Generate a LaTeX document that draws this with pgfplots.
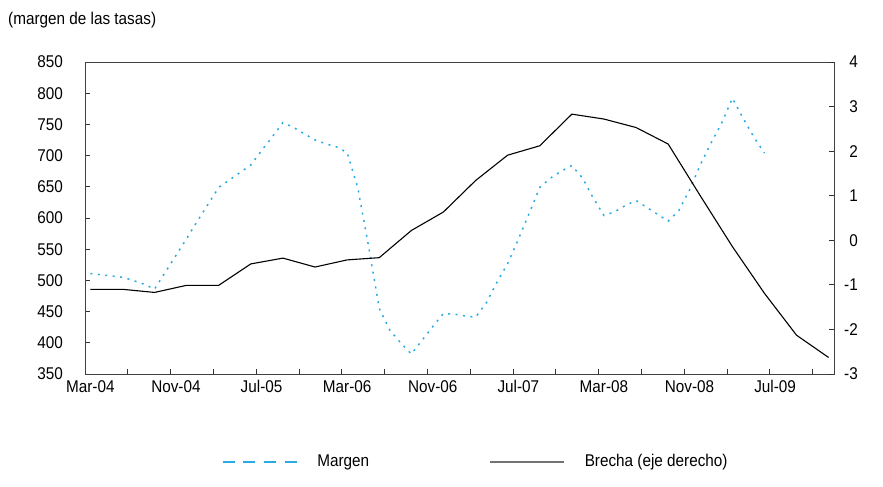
\documentclass[border=0pt]{standalone}
\usepackage{fontspec}
\setmainfont{Liberation Sans}[FakeStretch=0.9]
\usepackage{pgfplots}
\pgfplotsset{compat=1.18}
\definecolor{mcyan}{RGB}{41,171,226}
\newcommand{\chartfont}{\fontsize{17bp}{20bp}\selectfont}
\begin{document}
\chartfont
\begin{tikzpicture}
\useasboundingbox (0,0) rectangle (883bp,487bp);
\node[anchor=west, inner sep=0pt] at (8bp,467bp) {\chartfont (margen de las tasas)};
\begin{axis}[
  at={(85bp,113bp)}, anchor=south west, scale only axis,
  width=749bp, height=312bp,
  xmin=-0.5, xmax=69.5, ymin=350, ymax=850,
  /pgf/number format/assume math mode=true,
  ytick={350,400,...,850},
  ytick pos=left, xtick pos=bottom,
  tick align=inside, major tick length=5bp,
  tick style={black!80, line width=0.8bp},
  axis line style={black!75, line width=1bp},
  xtick={3.5,7.5,...,67.5}, xticklabels={},
  extra x ticks={0,8,16,24,32,40,48,56,64},
  extra x tick labels={Mar-04,Nov-04,Jul-05,Mar-06,Nov-06,Jul-07,Mar-08,Nov-08,Jul-09},
  extra x tick style={major tick length=0pt},
  xticklabel style={font=\chartfont, inner ysep=0pt, yshift=-6bp},
  yticklabel style={font=\chartfont, inner xsep=0pt, xshift=-22bp},
  legend columns=2,
  legend style={at={(0.1829,-0.282)}, anchor=west, draw=none, fill=none,
    font=\chartfont, inner sep=0pt,
    /tikz/every odd column/.append style={column sep=18bp},
    /tikz/every even column/.append style={column sep=118bp}},
  legend cell align=left,
]
\addplot[mcyan, line width=1.5bp, dash pattern=on 2bp off 5.5bp,
  legend image code/.code={\draw[mcyan, line width=1.2bp, dash pattern=on 12bp off 8.7bp] (0bp,0bp) -- (74bp,0bp);}]
coordinates {
(0,511) (1,509) (2,507) (3,505) (4,500) (5,494) (6,486) (7,513) (8,540) (9,567)
(10,595) (11,622) (12,649) (13,661) (14,673) (15,685) (16,708) (17,730) (18,753) (19,745)
(20,735) (21,725) (22,719) (23,714) (24,705) (25,648) (26,555) (27,455) (28,420) (29,400)
(30,382) (31,404) (32,426) (33,447) (34,446) (35,443) (36,441) (37,464) (38,497) (39,527)
(40,566) (41,607) (42,649) (43,664) (44,675) (45,684) (46,664) (47,632) (48,604) (49,610)
(50,620) (51,628) (52,617) (53,606) (54,595) (55,612) (56,645) (57,685) (58,720) (59,752)
(60,792) (61,760) (62,730) (63,704)
};
\addlegendentry{Margen}
\addlegendimage{legend image code/.code={\draw[black!55, line width=1.5bp] (0bp,0bp) -- (74bp,0bp);}}
\addlegendentry{Brecha (eje derecho)}
\end{axis}
\begin{axis}[
  at={(85bp,113bp)}, anchor=south west, scale only axis,
  width=749bp, height=312bp,
  xmin=-0.5, xmax=69.5, ymin=-3, ymax=4,
  /pgf/number format/assume math mode=true,
  axis x line=none, axis y line*=right,
  ytick={-3,-2,...,4},
  tick align=inside, major tick length=5bp,
  tick style={black!80, line width=0.8bp},
  axis line style={black!75, line width=1bp},
  yticklabel style={font=\chartfont, anchor=east, inner xsep=0pt, xshift=24bp},
]
\addplot[black, line width=1.1bp] coordinates {
(0,-1.10) (3,-1.10) (6,-1.17) (9,-1.01) (12,-1.01) (15,-0.53) (18,-0.40) (21,-0.60)
(24,-0.44) (27,-0.39) (30,0.22) (33,0.635) (36,1.34) (39,1.91) (42,2.12) (45,2.83)
(48,2.72) (51,2.53) (54,2.16) (57,1.00) (60,-0.14) (63,-1.19) (66,-2.13) (69,-2.63)
};
\end{axis}
\end{tikzpicture}
\end{document}
